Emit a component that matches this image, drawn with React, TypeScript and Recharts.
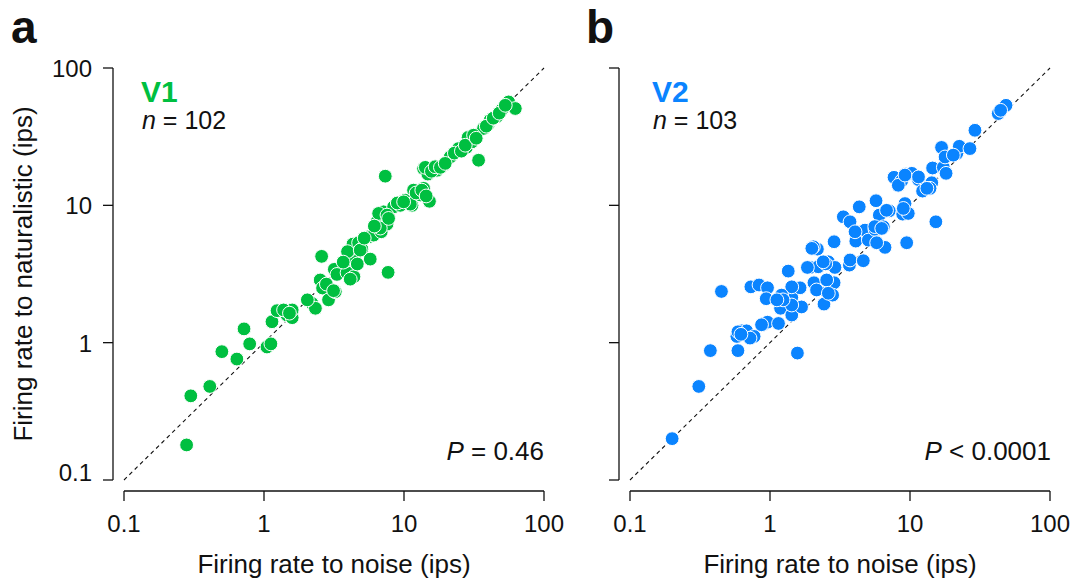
import { ScatterChart, Scatter, XAxis, YAxis, ReferenceLine } from 'recharts'

const GREEN = '#00bf40'
const BLUE = '#0a84ff'
const INK = '#111'
const FONT = '"Liberation Sans", Arial, Helvetica, sans-serif'

const TICKS = [0.1, 1, 10, 100]

// [noise, naturalistic] firing rates (ips)
const V1_POINTS: [number, number][] = [
  [0.28, 0.18], [0.30, 0.41], [0.41, 0.48], [0.50, 0.86], [0.64, 0.76], [0.72, 1.26], [0.79, 0.98], [1.05, 0.93], [1.12, 0.98], [1.14, 1.42],
  [1.24, 1.71], [1.46, 1.59], [1.59, 1.52], [1.59, 1.73], [2.2, 1.93], [2.33, 1.78], [2.58, 4.25], [2.52, 2.86], [2.62, 2.5], [2.89, 2.05],
  [3.23, 2.35], [3.18, 3.42], [3.32, 3.14], [3.92, 3.23], [4.39, 3.02], [3.83, 3.95], [4.44, 4.04], [4.05, 4.67], [4.32, 5.22], [4.74, 5.34],
  [5.0, 4.8], [5.74, 4.06], [7.7, 3.25], [5.58, 5.9], [6.07, 6.07], [6.88, 6.42], [6.41, 7.59], [7.23, 7.89], [7.56, 7.3], [7.15, 8.97],
  [7.35, 16.3], [8.43, 9.75], [9.41, 10.0], [10.2, 10.9], [11.4, 10.0], [11.7, 12.9], [13.1, 11.9], [13.8, 13.3], [15.2, 10.7], [13.8, 18.5],
  [14.8, 16.9], [17.2, 18.0], [19.2, 19.6], [21.4, 22.5], [24.5, 25.9], [27.9, 26.4], [30.6, 29.0], [28.7, 31.2], [34.1, 21.3], [37.0, 36.3],
  [40.2, 39.4], [41.3, 41.7], [46.2, 44.5], [50.1, 49.8], [55.9, 56.6], [62.4, 50.7],
  [3.95, 4.6], [4.87, 4.72], [3.68, 3.86], [4.64, 3.74], [2.79, 2.67], [3.14, 2.39], [2.04, 2.05], [5.2, 5.77], [6.59, 8.73], [7.56, 8.49],
  [6.77, 6.83], [7.76, 8.03], [6.14, 7.06], [8.96, 10.4], [11.1, 10.2], [9.94, 10.6], [12.2, 12.3], [13.4, 12.9], [14.4, 11.7], [14.2, 18.9],
  [15.7, 17.7], [16.7, 19.1], [18.2, 18.9], [19.7, 20.2], [22.9, 24.0], [25.7, 24.8], [27.4, 27.4], [31.4, 32.4], [32.8, 30.8], [38.7, 37.7],
  [43.4, 43.1], [47.9, 46.9], [52.9, 53.5], [1.38, 1.73], [1.52, 1.64], [4.13, 2.9],
]

const V2_POINTS: [number, number][] = [
  [0.2, 0.2], [0.31, 0.48], [0.375, 0.875], [0.45, 2.36], [0.59, 0.875], [0.58, 1.11], [0.63, 1.22], [0.68, 1.22], [0.77, 1.11], [0.73, 2.55],
  [0.835, 2.63], [0.96, 2.51], [0.94, 2.09], [0.91, 1.37], [0.96, 1.41], [1.15, 1.38], [1.18, 1.99], [1.19, 1.78], [1.43, 2.14], [1.43, 1.59],
  [1.35, 3.32], [1.57, 0.84], [1.64, 2.51], [1.68, 1.82], [1.93, 3.53], [2.18, 4.8], [2.04, 4.99], [2.21, 3.57], [2.06, 2.73], [2.54, 2.33],
  [2.43, 1.91], [2.61, 3.88], [2.87, 5.43], [2.91, 3.53], [2.87, 2.73], [2.8, 2.22], [3.34, 8.25], [3.69, 3.67], [3.73, 4.0], [4.1, 5.49],
  [4.34, 9.75], [4.64, 3.95], [4.77, 6.6], [5.04, 5.58], [5.62, 6.68], [5.72, 10.8], [6.04, 8.49], [6.63, 4.94], [5.78, 5.34], [7.11, 9.12],
  [7.69, 16.0], [8.72, 15.1], [8.87, 8.63], [9.21, 10.3], [9.72, 8.73], [9.47, 5.34], [9.36, 16.9], [10.3, 17.1], [11.5, 15.4], [12.3, 12.7],
  [14.3, 14.6], [14.5, 18.7], [15.3, 7.59], [17.3, 18.9], [18.1, 17.1], [16.8, 26.4], [17.8, 22.5], [21.6, 23.9], [22.5, 26.9], [26.8, 25.9],
  [29.1, 35.2], [42.7, 46.6], [48.5, 53.5], [44.4, 49.2], [3.73, 7.59],
  [1.43, 2.55], [1.21, 2.22], [0.72, 1.08], [0.87, 1.35], [1.43, 1.88], [1.99, 4.86], [2.5, 3.75], [2.54, 2.86], [1.24, 2.05], [6.45, 6.98],
  [8.25, 14.0], [9.21, 16.6], [13.9, 13.3], [5.6, 7.0], [0.59, 1.2], [2.15, 2.42], [2.61, 2.29], [2.4, 3.88], [1.85, 3.53], [4.05, 6.42],
  [6.28, 6.79], [6.8, 9.2], [8.96, 9.49], [11.5, 16.1], [20.4, 23.2], [13.2, 13.3], [1.12, 2.05], [0.62, 1.15],
]

// layout of one panel (both panels share it, panel b is shifted right)
const CHART_W = 568
const CHART_H = 579
const PLOT_LEFT = 124
const PLOT_TOP = 68
const PLOT_W = 420
const PLOT_H = 412
const B_SHIFT = 506

const X_LINE_Y = PLOT_TOP + PLOT_H + 11
const Y_LINE_X = PLOT_LEFT - 11

function XTick(props: any) {
  const { x, payload } = props
  return (
    <g>
      {payload.value === 0.1 && (
        <line x1={x} x2={x + PLOT_W} y1={X_LINE_Y} y2={X_LINE_Y} stroke={INK} strokeWidth={1.3} />
      )}
      <line x1={x} x2={x} y1={X_LINE_Y} y2={X_LINE_Y + 10} stroke={INK} strokeWidth={1.3} />
      <text x={x} y={532} textAnchor="middle" fontSize={24} fontFamily={FONT} fill={INK}>
        {String(payload.value)}
      </text>
    </g>
  )
}

function YTick(props: any) {
  const { y, payload, showLabels } = props
  const v = payload.value
  return (
    <g>
      {v === 0.1 && (
        <line x1={Y_LINE_X} x2={Y_LINE_X} y1={y} y2={y - PLOT_H} stroke={INK} strokeWidth={1.3} />
      )}
      <line x1={Y_LINE_X - 10} x2={Y_LINE_X} y1={y} y2={y} stroke={INK} strokeWidth={1.3} />
      {showLabels && (
        <text x={92} y={v === 0.1 ? y + 1 : y + 9} textAnchor="end" fontSize={24} fontFamily={FONT} fill={INK}>
          {String(v)}
        </text>
      )}
    </g>
  )
}

function Panel({ points, color, showLabels }: { points: [number, number][]; color: string; showLabels: boolean }) {
  const data = points.map(([noise, natural]) => ({ noise, natural }))
  return (
    <ScatterChart
      width={CHART_W}
      height={CHART_H}
      margin={{ top: PLOT_TOP, right: CHART_W - PLOT_LEFT - PLOT_W, bottom: 0, left: 0 }}
    >
      <XAxis
        dataKey="noise"
        type="number"
        scale="log"
        domain={[0.1, 100]}
        ticks={TICKS}
        interval={0}
        allowDataOverflow
        axisLine={false}
        tickLine={false}
        height={CHART_H - PLOT_TOP - PLOT_H}
        tick={(p: any) => <XTick {...p} />}
      />
      <YAxis
        dataKey="natural"
        type="number"
        scale="log"
        domain={[0.1, 100]}
        ticks={TICKS}
        interval={0}
        allowDataOverflow
        axisLine={false}
        tickLine={false}
        width={PLOT_LEFT}
        tick={(p: any) => <YTick {...p} showLabels={showLabels} />}
      />
      <ReferenceLine
        segment={[{ x: 0.1, y: 0.1 }, { x: 100, y: 100 }]}
        stroke={INK}
        strokeWidth={1.1}
        strokeDasharray="4 3.5"
        ifOverflow="visible"
      />
      <Scatter
        data={data}
        isAnimationActive={false}
        shape={(p: any) => (
          <circle cx={p.cx} cy={p.cy} r={6.9} fill={color} stroke="#fff" strokeWidth={1} />
        )}
      />
    </ScatterChart>
  )
}

export default function App() {
  return (
    <div style={{ position: 'relative', width: 1075, height: 579, background: '#fff', fontFamily: FONT, overflow: 'hidden' }}>
      <style>{'body{margin:0}'}</style>
      <div style={{ position: 'absolute', left: 0, top: 0 }}>
        <Panel points={V1_POINTS} color={GREEN} showLabels />
      </div>
      <div style={{ position: 'absolute', left: B_SHIFT, top: 0 }}>
        <Panel points={V2_POINTS} color={BLUE} showLabels={false} />
      </div>
      <svg
        width={1075}
        height={579}
        style={{ position: 'absolute', left: 0, top: 0, pointerEvents: 'none' }}
        fontFamily={FONT}
        fill={INK}
      >
        <text x={11} y={43} fontSize={46} fontWeight="bold">a</text>
        <text x={586} y={43} fontSize={46} fontWeight="bold">b</text>

        <text x={141} y={102} fontSize={30} fontWeight="bold" fill={GREEN}>V1</text>
        <text x={142} y={129} fontSize={25}><tspan fontStyle="italic">n</tspan> = 102</text>
        <text x={544} y={460} textAnchor="end" fontSize={26}><tspan fontStyle="italic">P</tspan> = 0.46</text>

        <text x={652} y={102} fontSize={30} fontWeight="bold" fill={BLUE}>V2</text>
        <text x={653} y={129} fontSize={25}><tspan fontStyle="italic">n</tspan> = 103</text>
        <text x={1051} y={460} textAnchor="end" fontSize={26}><tspan fontStyle="italic">P</tspan> &lt; 0.0001</text>

        <text x={334} y={573} textAnchor="middle" fontSize={26}>Firing rate to noise (ips)</text>
        <text x={840} y={573} textAnchor="middle" fontSize={26}>Firing rate to noise (ips)</text>
        <text transform="translate(32,274) rotate(-90)" textAnchor="middle" fontSize={26}>
          Firing rate to naturalistic (ips)
        </text>
      </svg>
    </div>
  )
}
